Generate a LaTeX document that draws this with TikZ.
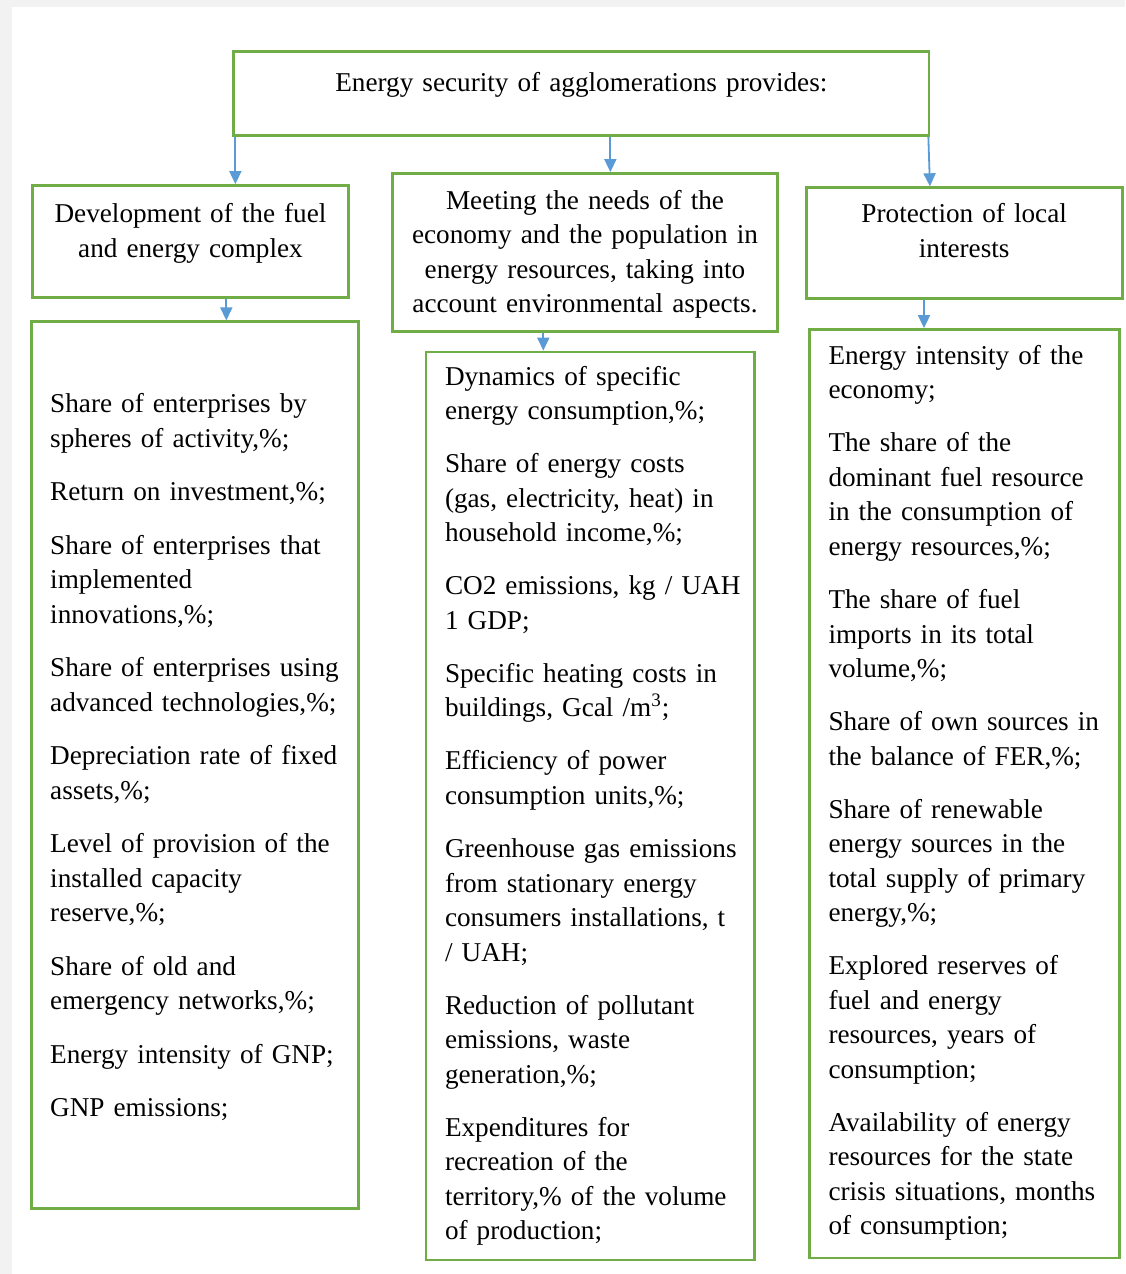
\documentclass[tikz,border=0pt]{standalone}
\usepackage{fontspec}
\setmainfont{Liberation Serif}
\usetikzlibrary{arrows.meta}
\definecolor{boxgreen}{HTML}{70AD47}
\definecolor{arrowblue}{HTML}{5B9BD5}
\definecolor{pagegray}{HTML}{F2F2F2}

\begin{document}
\begin{tikzpicture}[x=0.5pt, y=-0.5pt,
    every node/.style={font=\fontsize{13.6}{17.25}\selectfont},
    titlebox/.style={draw=boxgreen, line width=1.4pt, inner xsep=4pt, inner ysep=0pt, align=center},
    listbox/.style={draw=boxgreen, line width=1.4pt, inner xsep=9.5pt, inner ysep=0pt, align=left,
        execute at begin node={\rightskip=0pt plus 1fil minus 40pt\hyphenpenalty=10000}},
    arrowline/.style={draw=arrowblue, line width=0.9pt, -{Triangle[width=6pt,length=6.5pt]}}]

    % Page
    \useasboundingbox (0,0) rectangle (1125,1274);
    \fill[pagegray] (0,0) rectangle (1125,1274);
    \fill[white] (12,7) rectangle (1125,1274);

    % Top box
    \node[titlebox, text width=339.6pt, text height=19.85pt, text depth=22.35pt] (top) at (581.35,93.5) {Energy security of agglomerations provides:};

    % Three directions
    \node[titlebox, text width=150.3pt, text height=18.6pt, text depth=37.4pt] (fuel) at (190.5,241.5) {Development of the fuel\\and energy complex};
    \node[titlebox, text width=184.8pt, text height=17.9pt, text depth=60.95pt] (needs) at (585,252.35) {Meeting the needs of the\\economy and the population in\\energy resources, taking into\\account environmental aspects.};
    \node[titlebox, text width=150pt, text height=17.5pt, text depth=38.05pt] (local) at (964.2,243.25) {Protection of local\\interests};

    % Indicators
    \node[listbox, text width=144.65pt, text height=45.45pt, text depth=397.9pt] (fuelind) at (194.85,765.15) {Share of enterprises by\\spheres of activity,\%;\\[9.5pt]
        Return on investment,\%;\\[9.5pt]
        Share of enterprises that\\implemented\\innovations,\%;\\[9.5pt]
        Share of enterprises using\\advanced technologies,\%;\\[9.5pt]
        Depreciation rate of fixed\\assets,\%;\\[9.5pt]
        Level of provision of the\\installed capacity\\reserve,\%;\\[9.5pt]
        Share of old and\\emergency networks,\%;\\[9.5pt]
        Energy intensity of GNP;\\[9.5pt]
        GNP emissions;};
    \node[listbox, text width=145.35pt, text height=16.5pt, text depth=437.5pt] (needsind) at (590.35,806) {Dynamics of specific\\energy consumption,\%;\\[9.3pt]
        Share of energy costs\\(gas, electricity, heat) in\\household income,\%;\\[9.3pt]
        CO2 emissions, kg / UAH\\1 GDP;\\[9.3pt]
        Specific heating costs in\\buildings, Gcal /m\textsuperscript{3};\\[9.3pt]
        Efficiency of power\\consumption units,\%;\\[9.3pt]
        Greenhouse gas emissions\\from stationary energy\\consumers installations, t\\/ UAH;\\[9.3pt]
        Reduction of pollutant\\emissions, waste\\generation,\%;\\[9.3pt]
        Expenditures for\\recreation of the\\territory,\% of the volume\\of production;};
    \node[listbox, text width=136pt, text height=17.4pt, text depth=446.85pt] (localind) at (964.5,793.75) {Energy intensity of the\\economy;\\[9.3pt]
        The share of the\\dominant fuel resource\\in the consumption of\\energy resources,\%;\\[9.3pt]
        The share of fuel\\imports in its total\\volume,\%;\\[9.3pt]
        Share of own sources in\\the balance of FER,\%;\\[9.3pt]
        Share of renewable\\energy sources in the\\total supply of primary\\energy,\%;\\[9.3pt]
        Explored reserves of\\fuel and energy\\resources, years of\\consumption;\\[9.3pt]
        Availability of energy\\resources for the state\\crisis situations, months\\of consumption;};

    % Arrow starts
    \coordinate (topa) at ([xshift=1.5pt]top.south west);
    \coordinate (topb) at ([xshift=14.5pt]top.south);
    \coordinate (topc) at ([xshift=-1pt]top.south east);
    \coordinate (fuela) at ([xshift=17.9pt]fuel.south);
    \coordinate (needsa) at ([xshift=-20.85pt]needs.south);
    \coordinate (locala) at ([xshift=-20.1pt]local.south);

    % Arrows
    \draw[arrowline] (topa) -- (topa |- fuel.north);
    \draw[arrowline] (topb) -- (topb |- needs.north);
    \draw[arrowline] (topc) -- ([xshift=0.8pt]topc |- local.north);
    \draw[arrowline] (fuela) -- (fuela |- fuelind.north);
    \draw[arrowline] (needsa) -- (needsa |- needsind.north);
    \draw[arrowline] (locala) -- (locala |- localind.north);
\end{tikzpicture}
\end{document}
